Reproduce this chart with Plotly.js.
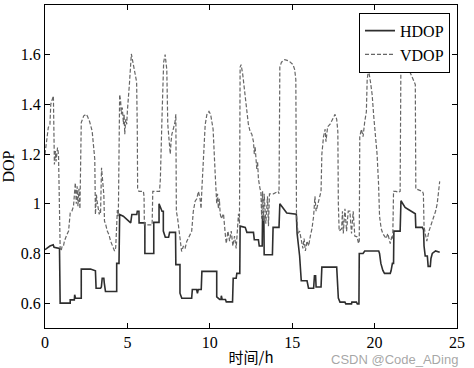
<!DOCTYPE html>
<html>
<head>
<meta charset="utf-8">
<script src="https://cdn.plot.ly/plotly-3.0.1.min.js"></script>
<style>html,body{margin:0;padding:0;background:#fff;}#chart{width:474px;height:368px;}</style>
</head>
<body>
<div id="chart"></div>
<script>
// ---- data ----
const hdopX = [0,0.15,0.3,0.5,0.55,0.88,0.88,0.92,0.92,1.53,1.53,1.78,1.8,1.85,2.2,2.2,2.76,3.06,3.1,3.37,3.42,3.47,3.57,3.6,3.67,4.35,4.35,4.49,4.53,4.75,5.06,5.2,5.27,5.57,5.6,5.7,5.71,6.06,6.06,6.6,6.6,6.92,6.92,7.1,7.18,7.18,7.3,7.5,7.56,7.92,7.94,8.19,8.19,8.3,8.9,8.94,9.2,9.25,9.3,9.48,9.52,10.42,10.42,10.6,10.68,10.7,10.75,10.95,11.0,11.38,11.42,11.6,11.64,11.82,11.84,12.15,12.25,12.65,12.7,12.95,13.0,13.18,13.2,13.28,13.3,13.8,13.84,14.2,14.25,14.67,15.25,15.3,15.45,15.55,15.9,15.99,16.3,16.35,16.42,16.45,16.75,16.8,17.7,17.8,17.9,18.2,18.25,18.6,18.62,18.9,18.95,19.05,19.07,19.3,19.4,20.25,20.3,20.38,20.5,20.6,20.95,21.0,21.08,21.15,21.17,21.55,21.6,21.85,22.1,22.47,22.5,22.9,22.97,23.0,23.07,23.2,23.25,23.38,23.42,23.5,23.7,23.95];
const hdopY = [0.815,0.822,0.83,0.835,0.825,0.82,0.68,0.68,0.6,0.6,0.613,0.613,0.634,0.62,0.62,0.737,0.737,0.73,0.66,0.66,0.665,0.70,0.70,0.68,0.647,0.647,0.76,0.76,0.957,0.95,0.93,0.923,0.957,0.957,0.97,0.97,0.923,0.923,0.8,0.8,0.925,0.925,1.0,0.97,0.97,0.89,0.865,0.865,0.885,0.885,0.755,0.755,0.64,0.62,0.62,0.655,0.655,0.64,0.655,0.655,0.728,0.728,0.625,0.615,0.615,0.63,0.615,0.615,0.605,0.605,0.70,0.70,0.72,0.72,0.91,0.905,0.885,0.885,0.855,0.855,0.83,0.83,0.95,0.95,0.795,0.795,0.905,0.905,1.0,0.963,0.958,0.88,0.79,0.69,0.69,0.66,0.66,0.71,0.71,0.665,0.665,0.745,0.745,0.62,0.604,0.604,0.597,0.597,0.604,0.604,0.597,0.597,0.8,0.8,0.81,0.81,0.8,0.76,0.732,0.72,0.72,0.73,0.76,0.76,0.89,0.89,1.012,0.985,0.975,0.96,0.905,0.905,0.895,0.83,0.79,0.79,0.748,0.748,0.78,0.8,0.81,0.805];

const vdopX = [0,0.1,0.2,0.3,0.35,0.41,0.51,0.57,0.63,0.67,0.76,0.82,0.86,0.92,0.98,1.04,1.12,1.18,1.33,1.43,1.53,1.63,1.73,1.84,1.9,1.95,2.0,2.06,2.12,2.2,2.35,2.51,2.59,2.71,2.86,2.96,3.02,3.06,3.12,3.16,3.22,3.29,3.33,3.37,3.43,3.47,3.53,3.57,3.61,3.67,3.78,3.88,3.98,4.14,4.22,4.29,4.35,4.39,4.45,4.53,4.59,4.63,4.69,4.76,4.8,4.84,4.9,4.96,5.0,5.06,5.12,5.24,5.31,5.41,5.5,5.56,5.6,5.62,5.7,5.97,6.01,6.03,6.5,6.54,6.95,7.0,7.1,7.2,7.29,7.39,7.45,7.5,7.55,7.6,7.65,7.7,7.8,7.89,7.94,7.97,8.05,8.19,8.29,8.4,8.5,8.6,8.7,8.9,9.0,9.11,9.21,9.31,9.41,9.47,9.52,9.62,9.72,9.82,9.95,10.05,10.2,10.32,10.37,10.42,10.47,10.52,10.58,10.63,10.7,10.83,10.95,11.0,11.1,11.2,11.3,11.4,11.5,11.6,11.74,11.8,11.84,11.9,12.0,12.14,12.24,12.34,12.45,12.55,12.65,12.7,12.75,12.85,12.9,12.95,13.05,13.1,13.15,13.2,13.25,13.3,13.4,13.5,13.56,13.62,13.86,14.15,14.2,14.25,14.35,14.55,14.8,15.05,15.15,15.22,15.26,15.35,15.45,15.55,15.65,15.72,15.8,15.9,16.0,16.1,16.2,16.3,16.38,16.45,16.55,16.65,16.75,16.8,16.9,17.0,17.05,17.15,17.3,17.45,17.6,17.7,17.77,17.8,17.85,18.0,18.05,18.1,18.2,18.3,18.4,18.5,18.6,18.7,18.8,18.93,19.03,19.07,19.1,19.2,19.3,19.4,19.5,19.55,19.63,19.75,19.85,19.95,20.04,20.15,20.24,20.3,20.4,20.5,20.6,20.7,20.8,20.95,21.05,21.1,21.15,21.3,21.45,21.55,21.6,21.75,21.95,22.15,22.36,22.47,22.5,22.9,22.96,23.0,23.07,23.17,23.3,23.45,23.58,23.7,23.8,23.95];
const vdopY = [1.2,1.26,1.307,1.32,1.40,1.414,1.434,1.158,1.212,1.17,1.226,1.20,0.93,0.822,0.81,0.83,0.83,0.85,0.876,0.89,0.963,0.97,0.99,1.085,1.0,1.07,0.99,1.06,0.98,1.327,1.354,1.36,1.35,1.33,1.293,1.226,1.18,0.957,1.037,1.01,0.98,0.957,0.975,0.96,1.145,1.10,1.06,1.037,0.93,0.92,0.89,0.876,0.85,0.822,0.81,0.822,0.94,0.975,0.95,1.44,1.414,1.36,1.387,1.32,1.36,1.28,1.34,1.32,1.375,1.414,1.48,1.603,1.576,1.549,1.52,1.49,1.3,1.062,1.05,1.05,1.03,0.915,0.915,1.05,1.05,1.1,1.35,1.57,1.60,1.54,1.32,1.28,1.23,1.2,1.25,1.28,1.305,1.33,1.36,0.97,0.94,0.85,0.808,0.83,0.82,0.848,0.86,0.889,0.97,1.01,1.02,1.05,1.02,0.98,1.06,1.21,1.318,1.358,1.372,1.36,1.3,1.13,1.06,1.0,1.04,0.98,1.02,0.96,0.94,0.96,0.87,0.84,0.89,0.85,0.89,0.83,0.87,0.82,0.96,0.92,1.55,1.56,1.52,1.43,1.36,1.32,1.29,1.28,1.25,1.2,1.23,1.14,1.17,1.10,1.06,1.05,0.94,1.05,0.93,1.04,0.92,1.03,0.91,1.04,1.04,1.05,1.04,1.55,1.57,1.58,1.575,1.56,1.54,1.5,0.96,0.88,0.89,0.85,0.82,0.86,0.81,0.85,0.83,0.87,0.9,0.95,1.03,0.97,1.0,1.02,1.05,1.2,1.27,1.3,1.25,1.31,1.32,1.34,1.36,1.34,1.29,1.0,0.89,0.9,0.97,0.88,0.98,0.89,0.97,0.97,0.88,0.97,0.87,0.867,0.84,0.85,1.27,1.3,1.27,1.33,1.37,1.5,1.54,1.49,1.44,1.35,1.28,1.2,1.08,0.95,0.9,0.88,0.87,0.86,0.88,0.84,0.87,0.86,1.05,1.05,1.045,1.05,1.61,1.6,1.56,1.53,1.5,1.48,1.06,1.05,1.04,0.91,0.88,0.85,0.89,0.92,0.95,0.97,1.0,1.09];

const seriesNames = ["HDOP", "VDOP"];
const xTickVals = [0, 5, 10, 15, 20, 25];
const xTickText = ["0", "5", "10", "15", "20", "25"];
const yTickVals = [0.6, 0.8, 1.0, 1.2, 1.4, 1.6];
const yTickText = ["0.6", "0.8", "1", "1.2", "1.4", "1.6"];
const xTitle = "时间/h";
const yTitle = "DOP";
const watermark = "CSDN @Code_ADing";

const serif = "Liberation Serif, Times New Roman, serif";

const traces = [
  {x: hdopX, y: hdopY, name: seriesNames[0], type: "scatter", mode: "lines",
   line: {color: "#2e2e2e", width: 1.6}},
  {x: vdopX, y: vdopY, name: seriesNames[1], type: "scatter", mode: "lines",
   line: {color: "#666666", width: 1.2, dash: "4px,2px"}}
];

const axisCommon = {
  showgrid: false, zeroline: false, showline: true, linecolor: "#000", linewidth: 1,
  mirror: "allticks", ticks: "inside", ticklen: 5, tickcolor: "#000", tickwidth: 1,
  tickfont: {family: serif, size: 16, color: "#000"}
};

const layout = {
  width: 474, height: 368,
  margin: {l: 45, r: 17, t: 5, b: 40},
  paper_bgcolor: "#fff", plot_bgcolor: "#fff",
  showlegend: true,
  legend: {x: 0.983, y: 0.976, xanchor: "right", yanchor: "top",
           bgcolor: "#fff", bordercolor: "#000", borderwidth: 1,
           font: {family: serif, size: 16, color: "#000"},
           tracegroupgap: 0, itemwidth: 30},
  xaxis: Object.assign({}, axisCommon, {range: [0, 25], tickvals: xTickVals, ticktext: xTickText,
    title: {text: xTitle, font: {family: "Noto Sans CJK SC, serif", size: 15, color: "#000"}, standoff: 2}}),
  yaxis: Object.assign({}, axisCommon, {range: [0.5, 1.8], tickvals: yTickVals, ticktext: yTickText,
    title: {text: yTitle, font: {family: serif, size: 16, color: "#000"}, standoff: 6}}),
  annotations: [{text: watermark, xref: "paper", yref: "paper", x: 1.007, y: -0.097,
    xanchor: "right", yanchor: "middle", showarrow: false,
    font: {family: "Liberation Sans, Arial, sans-serif", size: 13, color: "rgba(150,150,150,0.85)"}}]
};

Plotly.newPlot("chart", traces, layout, {staticPlot: true, displayModeBar: false});
</script>
</body>
</html>
